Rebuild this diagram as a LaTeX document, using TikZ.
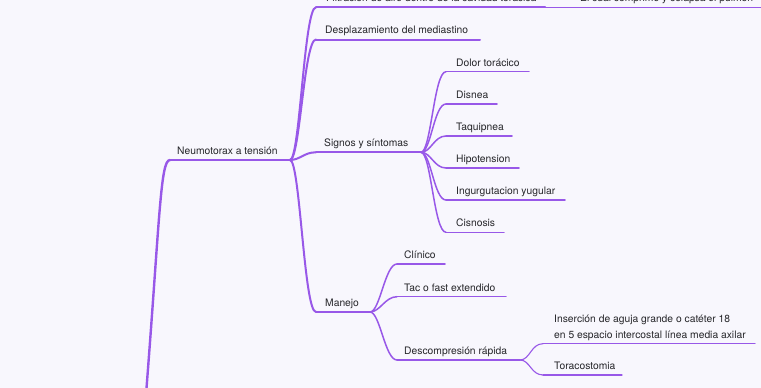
\documentclass[tikz,border=0pt]{standalone}
\usepackage{fontspec}
\setmainfont{TeX Gyre Heros}
\definecolor{bgc}{RGB}{248,247,253}
\definecolor{linec}{RGB}{152,88,232}
\definecolor{textc}{RGB}{38,38,42}
\begin{document}
\begin{tikzpicture}[x=1pt,y=-1pt,
  topic/.style={anchor=base west, inner sep=0pt, text=textc, font=\fontsize{10.3}{15.5}\selectfont},
  lroot/.style={draw=linec, line width=2.4pt, line cap=round},
  lone/.style={draw=linec, line width=2pt, line cap=round},
  ltwo/.style={draw=linec, line width=1.5pt, line cap=round},
  lthree/.style={draw=linec, line width=1.1pt, line cap=round},
  conn/.style={out=0, in=180, out distance=10pt, in distance=12pt}]
\useasboundingbox (0,0) rectangle (761,388);
\fill[bgc] (0,0) rectangle (761,388);

% root
\coordinate (r0) at (144,420);
\coordinate (ns) at (170,160); \coordinate (ne) at (290,160);
\node[topic] (n) at (177,154.5) {Neumotorax a tensión};
\draw[lroot] (r0) .. controls (160,220) and (160,160) .. (ns);
\draw[lone] (ns) -- (ne);

% level 1
\coordinate (fs) at (316,7.3); \coordinate (fe) at (545,7.3);
\node[topic] (f) at (326,1.8) {Filtración de aire dentro de la cavidad torácica};
\coordinate (es) at (570,7.3); \coordinate (ee) at (775,7.3);
\node[topic] (e) at (580,1.8) {El cual comprime y colapsa el pulmón};

\coordinate (ds) at (316,39.5); \coordinate (de) at (480,39.5);
\node[topic] (d) at (325,34) {Desplazamiento del mediastino};

\coordinate (ss) at (316,152.3); \coordinate (se) at (421,152.3);
\node[topic] (s) at (324,146.8) {Signos y síntomas};

\coordinate (ms) at (316,312); \coordinate (me) at (370,312);
\node[topic] (m) at (325,306.5) {Manejo};

\foreach \a/\b in {fs/fe,ds/de,ss/se,ms/me} \draw[lone] (\a) -- (\b);
\foreach \c in {fs,ds,ss,ms} \draw[lone] (ne) to[conn] (\c);
\draw[ltwo] (fe) -- (es) -- (ee);

% signos children
\coordinate (s1s) at (446,71.7); \coordinate (s1e) at (529,71.7);
\node[topic] (s1) at (456,66.2) {Dolor torácico};
\coordinate (s2s) at (446,104); \coordinate (s2e) at (497,104);
\node[topic] (s2) at (456,98.5) {Disnea};
\coordinate (s3s) at (446,136); \coordinate (s3e) at (512,136);
\node[topic] (s3) at (456,130.5) {Taquipnea};
\coordinate (s4s) at (446,168); \coordinate (s4e) at (519,168);
\node[topic] (s4) at (456,162.5) {Hipotension};
\coordinate (s5s) at (446,200); \coordinate (s5e) at (565,200);
\node[topic] (s5) at (456,194.5) {Ingurgutacion yugular};
\coordinate (s6s) at (446,232.3); \coordinate (s6e) at (504,232.3);
\node[topic] (s6) at (456,226.8) {Cisnosis};
\foreach \i in {1,...,6} {
  \draw[ltwo] (s\i s) -- (s\i e);
  \draw[ltwo] (se) to[conn] (s\i s);
}

% manejo children
\coordinate (m1s) at (397,264); \coordinate (m1e) at (445,264);
\node[topic] (m1) at (404,258.5) {Clínico};
\coordinate (m2s) at (397,296.7); \coordinate (m2e) at (506,296.7);
\node[topic] (m2) at (404,291.2) {Tac o fast extendido};
\coordinate (m3s) at (397,360); \coordinate (m3e) at (520,360);
\node[topic] (m3) at (404,354.5) {Descompresión rápida};
\foreach \i in {1,2,3} {
  \draw[ltwo] (m\i s) -- (m\i e);
  \draw[ltwo] (me) to[conn] (m\i s);
}

% descompresion children
\coordinate (d1s) at (543,343.7); \coordinate (d1e) at (755,343.7);
\node[topic, align=left] (d1) at (554,338.2) {Inserción de aguja grande o catéter 18\\en 5 espacio intercostal línea media axilar};
\coordinate (d2s) at (543,375); \coordinate (d2e) at (622,375);
\node[topic] (d2) at (554,369.5) {Toracostomia};
\foreach \i in {1,2} {
  \draw[lthree] (d\i s) -- (d\i e);
  \draw[lthree] (m3e) to[conn] (d\i s);
}
\end{tikzpicture}
\end{document}
